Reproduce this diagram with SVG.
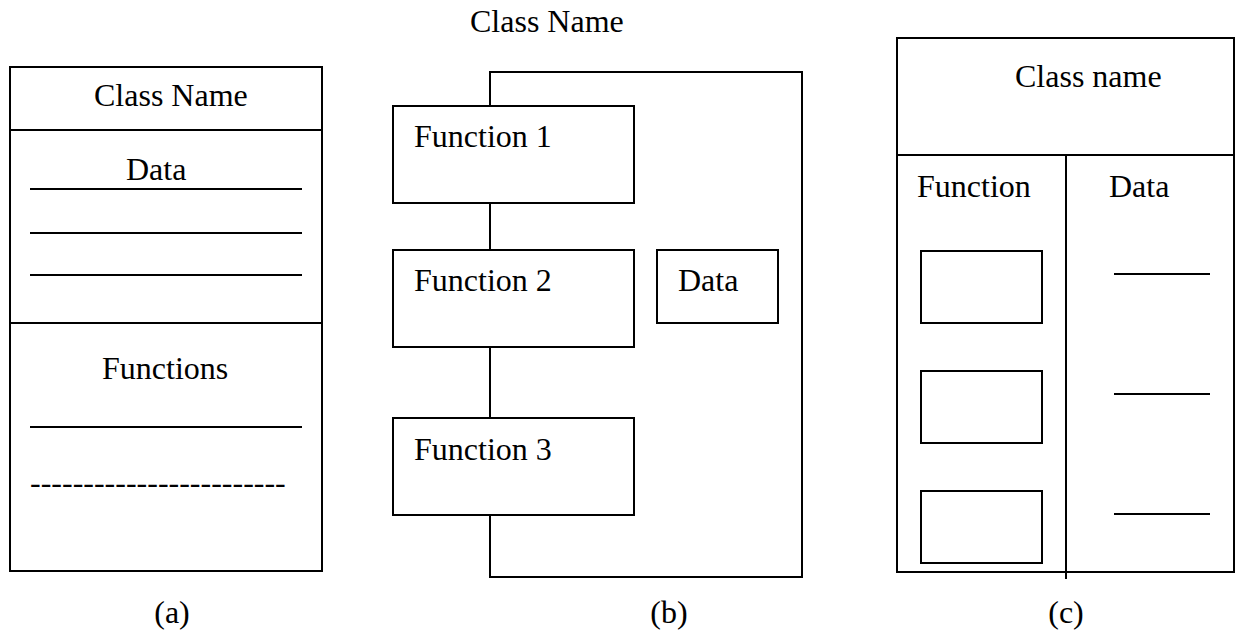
<svg xmlns="http://www.w3.org/2000/svg" width="1238" height="633" viewBox="0 0 1238 633">
<style>
.t{font-family:"Liberation Serif","Times New Roman",serif;font-size:32px;fill:#000}
.s{fill:none;stroke:#000;stroke-width:2}
.b{fill:#fff;stroke:#000;stroke-width:2}
</style>
<rect width="1238" height="633" fill="#fff"/>
<g id="panel-a">
<rect class="s" x="10" y="67" width="312" height="504"/>
<line class="s" x1="10" y1="130" x2="322" y2="130"/>
<line class="s" x1="10" y1="323" x2="322" y2="323"/>
<text class="t" x="94" y="106">Class Name</text>
<text class="t" x="126" y="180">Data</text>
<line class="s" x1="30" y1="189" x2="302" y2="189"/>
<line class="s" x1="30" y1="233" x2="302" y2="233"/>
<line class="s" x1="30" y1="275" x2="302" y2="275"/>
<text class="t" x="102" y="379">Functions</text>
<line class="s" x1="30" y1="427" x2="302" y2="427"/>
<text class="t" x="30" y="493">------------------------</text>
<text class="t" x="172" y="623" text-anchor="middle">(a)</text>
</g>
<g id="connectors">
<path class="s" d="M490,106 V72 H802 V577 H490 V515"/>
<line class="s" x1="490" y1="203" x2="490" y2="250"/>
<line class="s" x1="490" y1="347" x2="490" y2="418"/>
</g>
<g id="panel-b">
<text class="t" x="470" y="32">Class Name</text>
<g id="function1"><rect class="b" x="393" y="106" width="241" height="97"/><text class="t" x="414" y="147">Function 1</text></g>
<g id="function2"><rect class="b" x="393" y="250" width="241" height="97"/><text class="t" x="414" y="291">Function 2</text></g>
<g id="function3"><rect class="b" x="393" y="418" width="241" height="97"/><text class="t" x="414" y="460">Function 3</text></g>
<g id="data-b"><rect class="b" x="657" y="250" width="121" height="73"/><text class="t" x="678" y="291">Data</text></g>
<text class="t" x="669" y="623" text-anchor="middle">(b)</text>
</g>
<g id="panel-c">
<rect class="s" x="897" y="38" width="337" height="534"/>
<line class="s" x1="897" y1="155" x2="1234" y2="155"/>
<line class="s" x1="1066" y1="155" x2="1066" y2="579"/>
<text class="t" x="1015" y="87">Class name</text>
<text class="t" x="917" y="197">Function</text>
<text class="t" x="1109" y="197">Data</text>
<rect class="s" x="921" y="251" width="121" height="72"/>
<rect class="s" x="921" y="371" width="121" height="72"/>
<rect class="s" x="921" y="491" width="121" height="72"/>
<line class="s" x1="1114" y1="274" x2="1210" y2="274"/>
<line class="s" x1="1114" y1="394" x2="1210" y2="394"/>
<line class="s" x1="1114" y1="514" x2="1210" y2="514"/>
<text class="t" x="1066" y="623" text-anchor="middle">(c)</text>
</g>
</svg>
